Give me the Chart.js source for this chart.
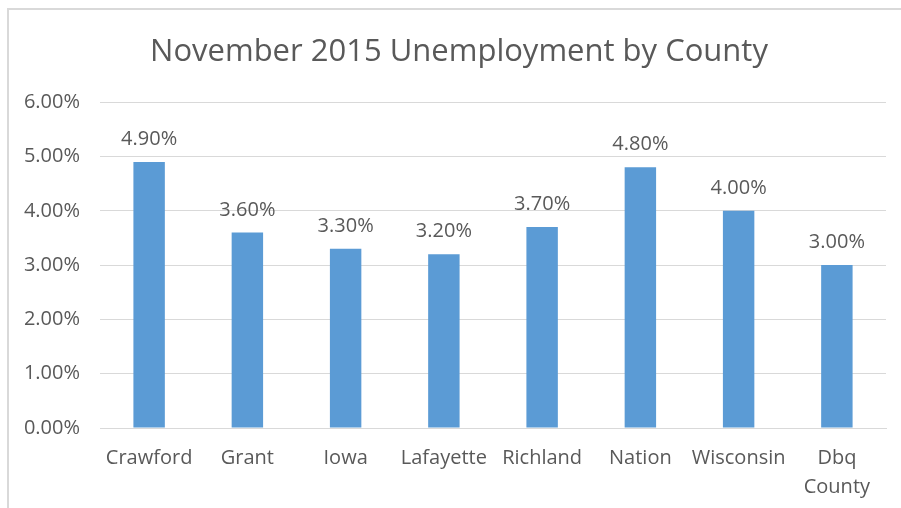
<!DOCTYPE html>
<html>
<head>
<meta charset="utf-8">
<script src="https://cdn.jsdelivr.net/npm/chart.js@4"></script>
<style>
  html, body { margin: 0; padding: 0; background: #fff; }
  #wrap { position: relative; width: 901px; height: 508px; overflow: hidden; }
  #frame {
    position: absolute; left: 7px; top: 8px; right: -10px; bottom: -10px;
    border-left: 2px solid #d9d9d9; border-top: 2px solid #d9d9d9;
    pointer-events: none;
  }
  canvas { position: absolute; left: 0; top: 0; }
</style>
</head>
<body>
<div id="wrap">
  <canvas id="chart" width="901" height="508"></canvas>
  <div id="frame"></div>
</div>
<script>
// unemployment rate, percent
const counties = ['Crawford', 'Grant', 'Iowa', 'Lafayette', 'Richland', 'Nation', 'Wisconsin', ['Dbq', 'County']];
const rates = [4.9, 3.6, 3.3, 3.2, 3.7, 4.8, 4.0, 3.0];
const yTicks = [0, 1, 2, 3, 4, 5, 6];

const FONT = '"Open Sans", sans-serif';
const GREY = '#595959';

// prints the value above each bar
const valueLabels = {
    id: 'valueLabels',
    afterDatasetsDraw(chart) {
        const ctx = chart.ctx;
        const meta = chart.getDatasetMeta(0);
        ctx.save();
        ctx.font = '20px ' + FONT;
        ctx.fillStyle = GREY;
        ctx.textAlign = 'center';
        ctx.textBaseline = 'alphabetic';
        meta.data.forEach((bar, i) => {
            ctx.fillText(rates[i].toFixed(2) + '%', bar.x, bar.y - 17);
        });
        ctx.restore();
    }
};

// the title sits a bit right of centre, so the left padding is wide;
// widen the y scale's label area afterwards so the tick text isn't clipped
const widenYLabels = {
    id: 'widenYLabels',
    afterLayout(chart) {
        chart.scales.y.left = 10;
    }
};

const ctx = document.getElementById('chart').getContext('2d');
new Chart(ctx, {
    type: 'bar',
    data: {
        labels: counties,
        datasets: [{
            data: rates,
            backgroundColor: '#5b9bd5',
            barPercentage: 1,
            categoryPercentage: 0.32
        }]
    },
    options: {
        responsive: false,
        animation: false,
        layout: { padding: { left: 32, right: 15, top: 20, bottom: 6 } },
        plugins: {
            legend: { display: false },
            tooltip: { enabled: false },
            title: {
                display: true,
                text: 'November 2015 Unemployment by County',
                color: GREY,
                font: { family: FONT, size: 31, weight: 'normal' },
                padding: { top: 14, bottom: 31 }
            }
        },
        scales: {
            x: {
                afterFit: s => { s.height = 74; },
                grid: { display: false, drawTicks: false },
                border: { color: '#d9d9d9', width: 1 },
                ticks: {
                    color: GREY,
                    font: { family: FONT, size: 20, lineHeight: 1.45 },
                    padding: 16,
                    maxRotation: 0,
                    autoSkip: false
                }
            },
            y: {
                min: 0,
                max: 6,
                afterBuildTicks: s => { s.ticks = yTicks.map(v => ({ value: v })); },
                afterFit: s => { s.width = 68; },
                grid: { color: '#d9d9d9', drawTicks: false },
                border: { display: false },
                ticks: {
                    color: GREY,
                    font: { family: FONT, size: 20 },
                    padding: 20,
                    callback: v => v.toFixed(2) + '%'
                }
            }
        }
    },
    plugins: [valueLabels, widenYLabels]
});
</script>
</body>
</html>
